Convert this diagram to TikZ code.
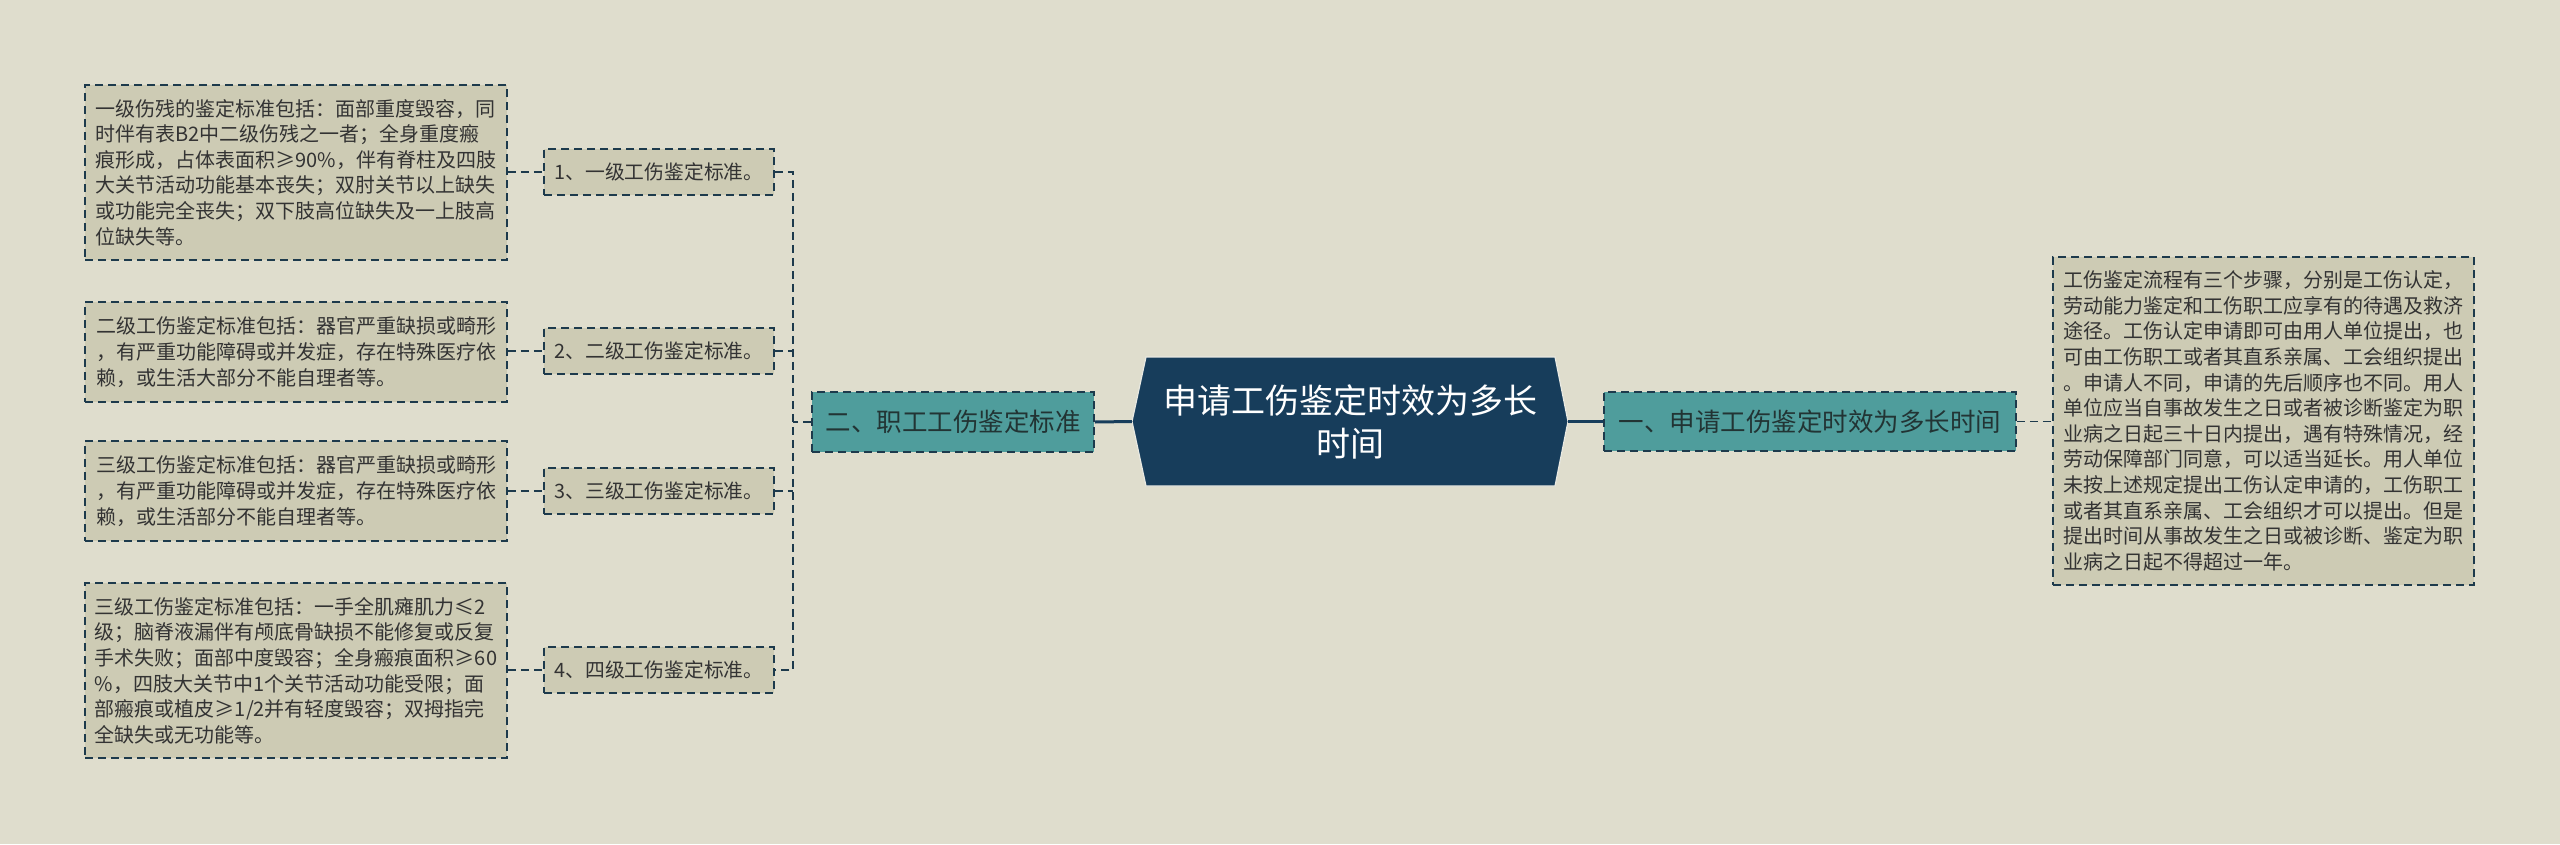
\documentclass[tikz,border=0pt]{standalone}
\usepackage{fontspec}
\setmainfont{Noto Sans CJK SC}
\usetikzlibrary{calc}
\definecolor{bg}{HTML}{DFDDCD}
\definecolor{leaffill}{HTML}{CDCBB4}
\definecolor{tealfill}{HTML}{4F9D9C}
\definecolor{navy}{HTML}{173D5B}
\definecolor{dashc}{HTML}{1D3A4C}
\definecolor{txt}{HTML}{333333}
\definecolor{catc}{HTML}{223434}
\definecolor{rimc}{HTML}{E9E9E2}
\begin{document}
\begin{tikzpicture}[x=1pt,y=1pt,
  box/.style={draw=dashc, line width=1.8pt, dash pattern=on 8pt off 5pt, inner sep=0pt, text=txt},
  leafbox/.style={box, fill=leaffill, minimum width=422pt, align=left, font=\fontsize{20}{25.6}\selectfont},
  midbox/.style={box, fill=leaffill, minimum width=230pt, minimum height=46pt, font=\fontsize{19.8}{24}\selectfont},
  catbox/.style={box, fill=tealfill, minimum height=60pt, text=catc, font=\fontsize{25.5}{30}\selectfont},
  link/.style={draw=dashc, line width=1.8pt, dash pattern=on 8pt off 5pt},
  mainlink/.style={draw=navy, line width=3pt}]
\fill[bg] (0,0) rectangle (2560,-844);
\useasboundingbox (0,0) rectangle (2560,-844);

% central hexagon
\fill[navy, draw=rimc, line width=1.2pt] (1132,-421.5) -- (1146,-357) -- (1555,-357) -- (1568,-421.5) -- (1555,-486) -- (1146,-486) -- cycle;
\node[minimum width=436pt, minimum height=129pt, inner sep=0pt, text=white, align=center,
  font=\fontsize{34}{43}\selectfont] (center) at (1350,-421.5) {申请工伤鉴定时效为多长\\时间};

% categories
\node[catbox, minimum width=282pt] (lcat) at (953,-422) {二、职工工伤鉴定标准};
\node[catbox, minimum width=412pt, minimum height=59pt] (rcat) at (1810,-421.5) {一、申请工伤鉴定时效为多长时间};

% right leaf
\node[leafbox, minimum width=421pt, minimum height=328pt] (rleaf) at (2263.5,-421) {工伤鉴定流程有三个步骤，分别是工伤认定，\\劳动能力鉴定和工伤职工应享有的待遇及救济\\途径。工伤认定申请即可由用人单位提出，也\\可由工伤职工或者其直系亲属、工会组织提出\\。申请人不同，申请的先后顺序也不同。用人\\单位应当自事故发生之日或者被诊断鉴定为职\\业病之日起三十日内提出，遇有特殊情况，经\\劳动保障部门同意，可以适当延长。用人单位\\未按上述规定提出工伤认定申请的，工伤职工\\或者其直系亲属、工会组织才可以提出。但是\\提出时间从事故发生之日或被诊断、鉴定为职\\业病之日起不得超过一年。};

% middle boxes
\node[midbox] (mid1) at (659,-172) {1、一级工伤鉴定标准。};
\node[midbox] (mid2) at (659,-351) {2、二级工伤鉴定标准。};
\node[midbox] (mid3) at (659,-491) {3、三级工伤鉴定标准。};
\node[midbox] (mid4) at (659,-670) {4、四级工伤鉴定标准。};

% left leaves
\node[leafbox, minimum height=175pt] (leaf1) at (296,-172.5) {一级伤残的鉴定标准包括：面部重度毁容，同\\时伴有表B2中二级伤残之一者；全身重度瘢\\痕形成，占体表面积≥90\%，伴有脊柱及四肢\\大关节活动功能基本丧失；双肘关节以上缺失\\或功能完全丧失；双下肢高位缺失及一上肢高\\位缺失等。};
\node[leafbox, minimum height=100pt] (leaf2) at (296,-352) {二级工伤鉴定标准包括：器官严重缺损或畸形\\，有严重功能障碍或并发症，存在特殊医疗依\\赖，或生活大部分不能自理者等。};
\node[leafbox, minimum height=100pt] (leaf3) at (296,-491) {三级工伤鉴定标准包括：器官严重缺损或畸形\\，有严重功能障碍或并发症，存在特殊医疗依\\赖，或生活部分不能自理者等。};
\node[leafbox, minimum height=175pt] (leaf4) at (296,-670.5) {三级工伤鉴定标准包括：一手全肌瘫肌力≤2\\级；脑脊液漏伴有颅底骨缺损不能修复或反复\\手术失败；面部中度毁容；全身瘢痕面积≥60\\\%，四肢大关节中1个关节活动功能受限；面\\部瘢痕或植皮≥1/2并有轻度毁容；双拇指完\\全缺失或无功能等。};

% connectors
\draw[mainlink] (lcat.east) -- (center.west);
\draw[mainlink] (center.east) -- (rcat.west);
\draw[link] (rcat.east) -- (rleaf.west |- rcat.east);

\coordinate (bx) at (793,-422);
\draw[link] (lcat.west) -- (bx);
\draw[link] (mid1.east) -- (mid1.east -| bx) -- (mid4.east -| bx) -- (mid4.east);
\draw[link] (mid2.east) -- (mid2.east -| bx);
\draw[link] (mid3.east) -- (mid3.east -| bx);

\draw[link] (leaf1.east |- mid1.west) -- (mid1.west);
\draw[link] (leaf2.east |- mid2.west) -- (mid2.west);
\draw[link] (leaf3.east |- mid3.west) -- (mid3.west);
\draw[link] (leaf4.east |- mid4.west) -- (mid4.west);
\end{tikzpicture}
\end{document}
